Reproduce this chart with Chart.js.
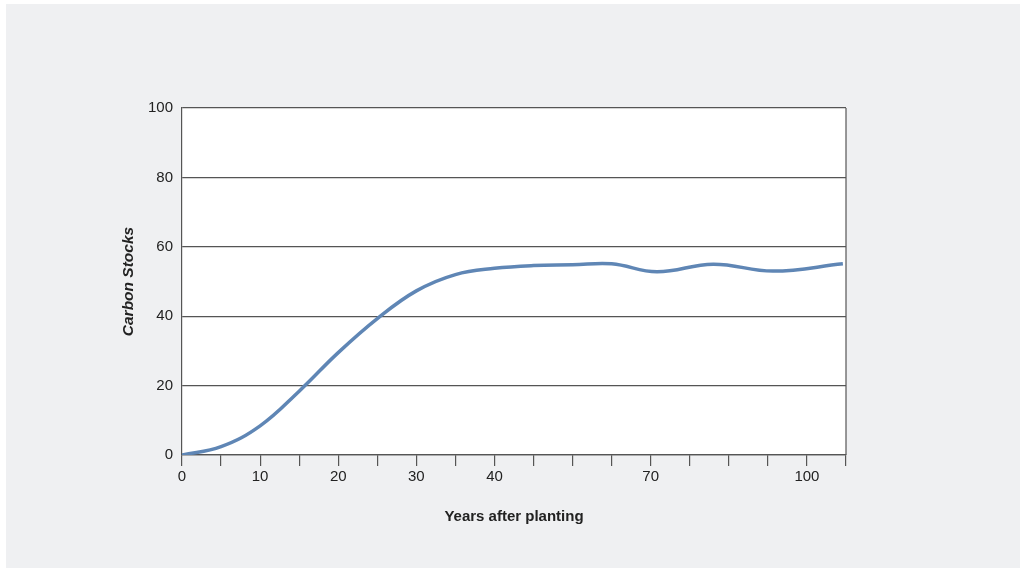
<!DOCTYPE html>
<html>
<head>
<meta charset="utf-8">
<script src="https://cdn.jsdelivr.net/npm/chart.js@4.4.1/dist/chart.umd.min.js"></script>
<style>
  html, body { margin: 0; padding: 0; background: #ffffff; }
  #panel { position: absolute; left: 6px; top: 4px; width: 1014px; height: 564px; background: #eff0f2; }
  #wrap { position: absolute; left: 0; top: 0; width: 1026px; height: 573px; }
</style>
</head>
<body>
<div id="panel"></div>
<div id="wrap"><canvas id="myChart" width="1026" height="573"></canvas></div>
<script>
// years on each tick slot of the (uneven) x axis
var slotYears = [0, 5, 10, 15, 20, 25, 30, 35, 40, 47.5, 55, 62.5, 70, 77.5, 85, 92.5, 100, 107.5];
var tickLabels = ["0", "", "10", "", "20", "", "30", "", "40", "", "", "", "70", "", "", "", "100", ""];

// carbon stock curve
var years  = [0, 5, 10, 15, 20, 25, 30, 35, 40, 47.5, 55, 62.5, 71.2, 82, 93.5, 106.9];
var carbon = [0, 2.4, 8.4, 18.4, 29.5, 39.3, 47.3, 52, 53.8, 54.6, 54.8, 55.1, 52.8, 55.0, 53.0, 55.1];

var yTicks = [0, 20, 40, 60, 80, 100];

function toSlot(yr) {
  for (var i = 0; i < slotYears.length - 1; i++) {
    if (yr <= slotYears[i + 1]) {
      return i + (yr - slotYears[i]) / (slotYears[i + 1] - slotYears[i]);
    }
  }
  return slotYears.length - 1;
}

var points = years.map(function (yr, i) { return { x: toSlot(yr), y: carbon[i] }; });

var plotFrame = {
  id: 'plotFrame',
  beforeDatasetsDraw: function (chart) {
    var a = chart.chartArea, ctx = chart.ctx;
    ctx.save();
    ctx.strokeStyle = '#555';
    ctx.lineWidth = 1.2;
    ctx.beginPath();
    ctx.moveTo(a.right, a.top);
    ctx.lineTo(a.right, a.bottom);
    ctx.stroke();
    ctx.restore();
  },
  beforeDraw: function (chart) {
    var a = chart.chartArea, ctx = chart.ctx;
    ctx.save();
    ctx.fillStyle = '#ffffff';
    ctx.fillRect(a.left, a.top, a.right - a.left, a.bottom - a.top);
    ctx.restore();
  }
};

Chart.defaults.font.family = "'Liberation Sans', Arial, sans-serif";
Chart.defaults.color = '#222';

new Chart(document.getElementById('myChart'), {
  type: 'line',
  data: {
    datasets: [{
      data: points,
      borderColor: 'rgb(95, 134, 181)',
      borderWidth: 3.5,
      pointRadius: 0,
      tension: 0.4,
      fill: false
    }]
  },
  options: {
    responsive: false,
    animation: false,
    layout: { padding: { left: 115, right: 180, top: 108, bottom: 43 } },
    plugins: { legend: { display: false }, tooltip: { enabled: false } },
    scales: {
      x: {
        type: 'linear',
        min: 0,
        max: slotYears.length - 1,
        afterFit: function (s) { s.height = 75; },
        afterBuildTicks: function (s) {
          s.ticks = slotYears.map(function (v, i) { return { value: i }; });
        },
        ticks: {
          autoSkip: false,
          maxRotation: 0,
          padding: 2,
          font: { size: 15 },
          callback: function (v) { return tickLabels[v]; }
        },
        grid: { drawOnChartArea: false, drawTicks: true, tickLength: 11, color: '#555', lineWidth: 1.2 },
        border: { color: '#555', width: 1.2 },
        title: { display: true, text: 'Years after planting', font: { size: 15, weight: 'bold' }, color: '#222', padding: 4 }
      },
      y: {
        min: 0,
        max: 100,
        afterFit: function (s) { s.width = 67; },
        afterBuildTicks: function (s) {
          s.ticks = yTicks.map(function (v) { return { value: v }; });
        },
        ticks: { padding: 9, font: { size: 15 } },
        grid: { drawTicks: false, tickLength: 0, color: '#555', lineWidth: 1.2 },
        border: { color: '#555', width: 1.2 },
        title: { display: true, text: 'Carbon Stocks', font: { size: 15.5, weight: 'bold', style: 'italic' }, color: '#222', padding: 4 }
      }
    }
  },
  plugins: [plotFrame]
});
</script>
</body>
</html>
